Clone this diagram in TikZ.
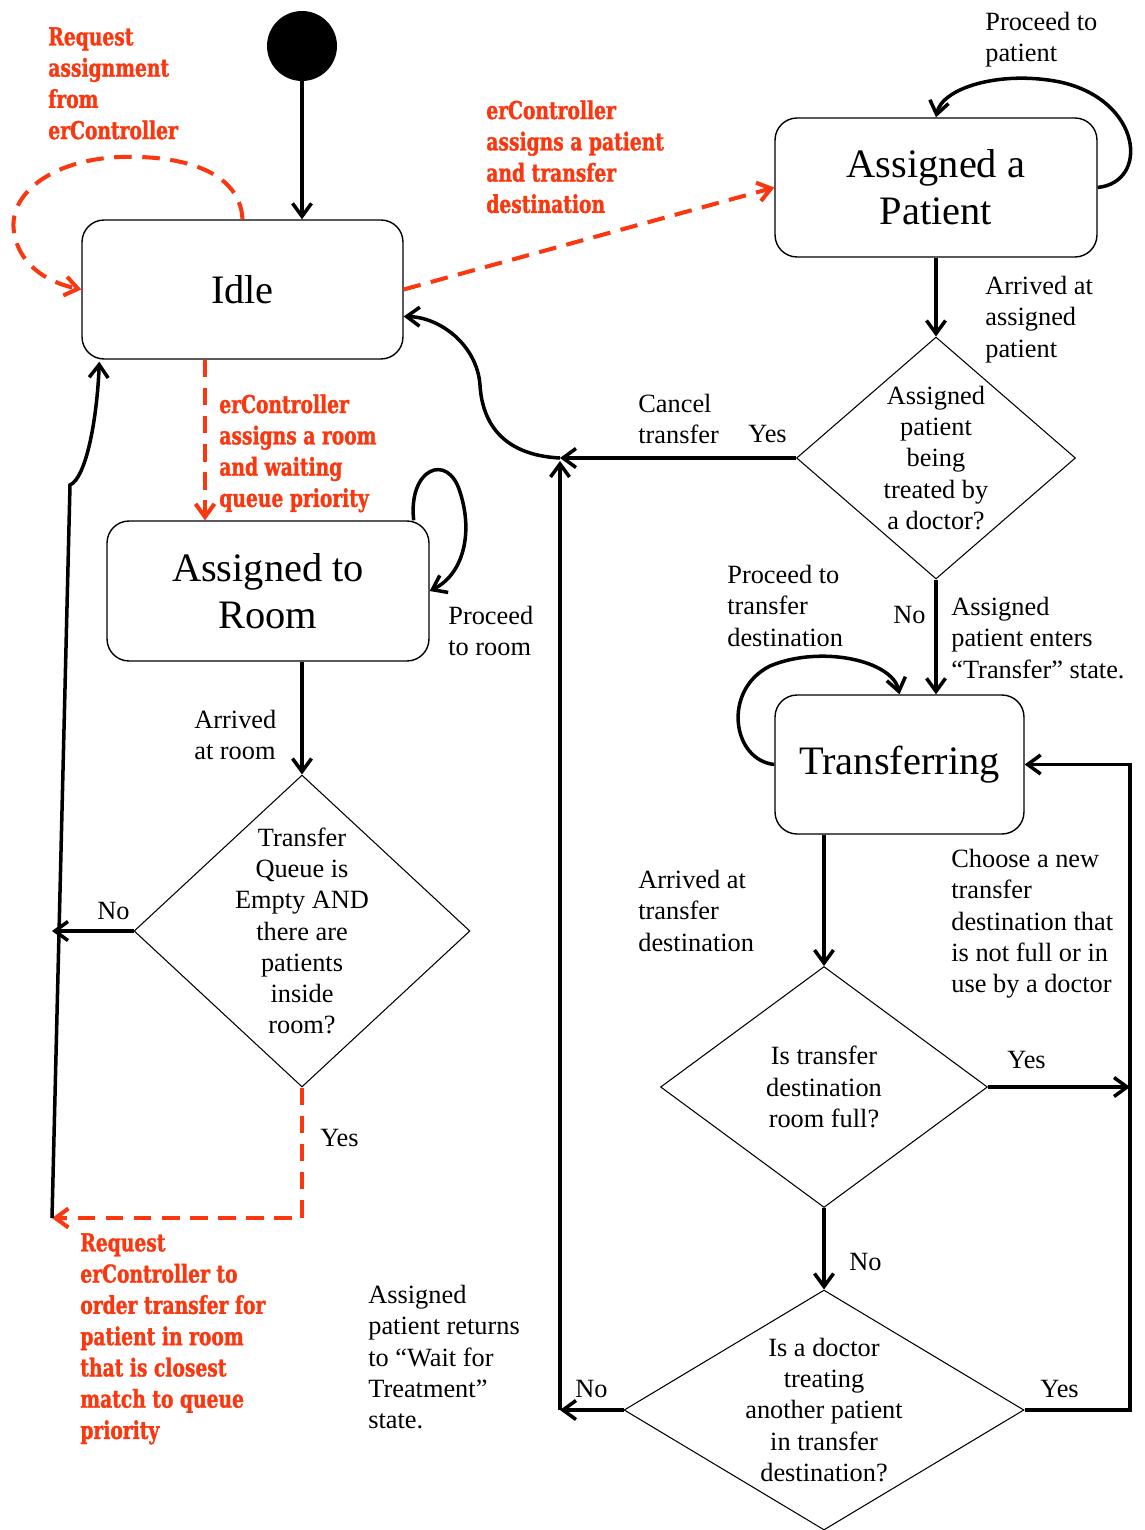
\documentclass[tikz,border=0pt]{standalone}
\usepackage{fontspec}
\setmainfont{Liberation Serif}
\newfontfamily\ctrlfont[FakeStretch=0.76,FakeBold=1.2]{DejaVu Serif}
\usepackage{tikz}
\usetikzlibrary{calc, shapes, arrows.meta}
\definecolor{ctrlred}{RGB}{250,55,15}
\tikzset{>={Straight Barb[length=2.6mm,width=3.8mm]}}
\tikzset{
state/.style={draw, rounded corners=0.44cm, line width=0.8pt, inner sep=0pt, align=center, font=\fontsize{23}{26.6}\selectfont},
decision/.style={draw, diamond, line width=0.6pt, inner sep=0pt},
qtext/.style={align=center, inner sep=0pt, font=\fontsize{15}{17.8}\selectfont},
trans/.style={->, line width=2pt},
ctrl/.style={->, draw=ctrlred, line width=2.3pt, dash pattern=on 10pt off 6pt},
lbl/.style={anchor=north west, inner sep=0pt, align=left, font=\fontsize{15}{17.8}\selectfont},
ctrllbl/.style={anchor=north west, inner sep=0pt, align=left, text=ctrlred, font=\ctrlfont\bfseries\fontsize{14}{17.8}\selectfont}
}

\begin{document}
\begin{tikzpicture}[x=0.02cm, y=-0.02cm]
\fill[white] (0,0) rectangle (1144,1530);
\useasboundingbox (0,0) rectangle (1144,1530);

\node[circle, fill=black, minimum size=1.4cm, inner sep=0pt] (start) at (302,46) {};
\node[state, minimum width=6.42cm, minimum height=2.78cm] (idle) at (242.5,289.5) {Idle};
\node[state, minimum width=6.44cm, minimum height=2.78cm] (patient) at (936,187.5) {Assigned a\\Patient};
\node[state, minimum width=6.44cm, minimum height=2.80cm] (room) at (268,591) {Assigned to\\Room};
\node[state, minimum width=4.98cm, minimum height=2.78cm] (xfer) at (899.5,764.5) {Transferring};

\node[decision, minimum width=5.58cm, minimum height=4.84cm,
  label={[qtext]center:{Assigned\\patient\\being\\treated by\\a doctor?}}] (treated) at (936,458) {};
\node[decision, minimum width=6.72cm, minimum height=6.24cm,
  label={[qtext]center:{Transfer\\Queue is\\Empty AND\\there are\\patients\\inside\\room?}}] (queue) at (302,931) {};
\node[decision, minimum width=6.54cm, minimum height=4.82cm,
  label={[qtext]center:{Is transfer\\destination\\room full?}}] (full) at (824,1087) {};
\node[decision, minimum width=8.0cm, minimum height=4.8cm,
  label={[qtext]center:{Is a doctor\\treating\\another patient\\in transfer\\destination?}}] (busy) at (824,1410) {};

\coordinate (cancel) at (560,458);
\coordinate (back) at (560,1410);
\coordinate (retry) at (1130,1410);
\coordinate (order) at (52,1218);
\coordinate (kink) at (70,485);

\draw[trans] (start) -- (start |- idle.north);
\draw[ctrl] (idle.north) .. controls (240,170) and (180,155) .. (120,157)
  .. controls (50,160) and (8,195) .. (14,232) .. controls (20,270) and (55,284) .. (idle.west);
\draw[ctrl] (idle.east) -- (patient.west);
\draw[ctrl] ([xshift=-0.75cm]idle.south) -- ([xshift=-0.75cm]idle.south |- room.north);

\draw[trans] (patient.east) .. controls (1150,182) and (1142,100) .. (1060,82)
  .. controls (1000,70) and (942,88) .. (patient.north);
\draw[trans] (patient.south) -- (treated.north);
\draw[trans] (treated.west) -- (cancel);
\draw[trans] (cancel) .. controls (500,455) and (482,420) .. (480,385)
  .. controls (477,345) and (440,317) .. ($(idle.east)+(0,27)$);
\draw[trans] (treated.south) -- (treated.south |- xfer.north);

\draw[trans] ([xshift=-0.32cm]room.north east) .. controls (408,468) and (448,452) .. (460,492)
  .. controls (474,535) and (462,575) .. (room.east);
\draw[trans] (room.south -| queue.north) -- (queue.north);
\draw[trans] (queue.west) -- (queue.west -| order);
\draw[ctrl] (queue.south) |- (order);
\draw[trans] (order) -- (kink) .. controls (86,478) and (97,420) .. ($(idle.south west)+(18,2)$);

\draw[trans] (xfer.west) .. controls (732,760) and (722,690) .. (770,666)
  .. controls (820,645) and (892,660) .. (xfer.north);
\draw[trans] (xfer.south -| full.north) -- (full.north);
\draw[trans] (full.east) -- (full.east -| retry);
\draw[trans] (full.south) -- (busy.north);
\draw[trans] (busy.east) -- (retry) |- (xfer.east);
\draw[trans] (busy.west) -- (back);
\draw[trans] (back) -- ($(cancel)+(0,3)$);

\node[ctrllbl] (askctrl) at (48,27) {Request\\assignment\\from\\erController};
\node[ctrllbl] (gotpatient) at (486,100) {erController\\assigns a patient\\and transfer\\destination};
\node[ctrllbl] (gotroom) at (219,394) {erController\\assigns a room\\and waiting\\queue priority};
\node[ctrllbl] (askorder) at (80,1233) {Request\\erController to\\order transfer for\\patient in room\\that is closest\\match to queue\\priority};

\node[lbl] (topatient) at (985,12) {Proceed to\\patient};
\node[lbl] (atpatient) at (985,276) {Arrived at\\assigned\\patient};
\node[lbl] (canceltxt) at (638,394) {Cancel\\transfer};
\node[lbl] (yesA) at (748,425) {Yes};
\node[lbl] (todest) at (727,565) {Proceed to\\transfer\\destination};
\node[lbl] (noA) at (893,606) {No};
\node[lbl] (enters) at (951,597) {Assigned\\patient enters\\“Transfer” state.};
\node[lbl] (toroom) at (448,606) {Proceed\\to room};
\node[lbl] (atroom) at (194,710) {Arrived\\at room};
\node[lbl] (noB) at (97,902) {No};
\node[lbl] (yesB) at (320,1129) {Yes};
\node[lbl] (atdest) at (638,870) {Arrived at\\transfer\\destination};
\node[lbl] (choose) at (951,849) {Choose a new\\transfer\\destination that\\is not full or in\\use by a doctor};
\node[lbl] (yesC) at (1007,1051) {Yes};
\node[lbl] (noC) at (849,1253) {No};
\node[lbl] (noD) at (575,1380) {No};
\node[lbl] (yesD) at (1040,1380) {Yes};
\node[lbl] (returns) at (368,1285) {Assigned\\patient returns\\to “Wait for\\Treatment”\\state.};
\end{tikzpicture}
\end{document}
